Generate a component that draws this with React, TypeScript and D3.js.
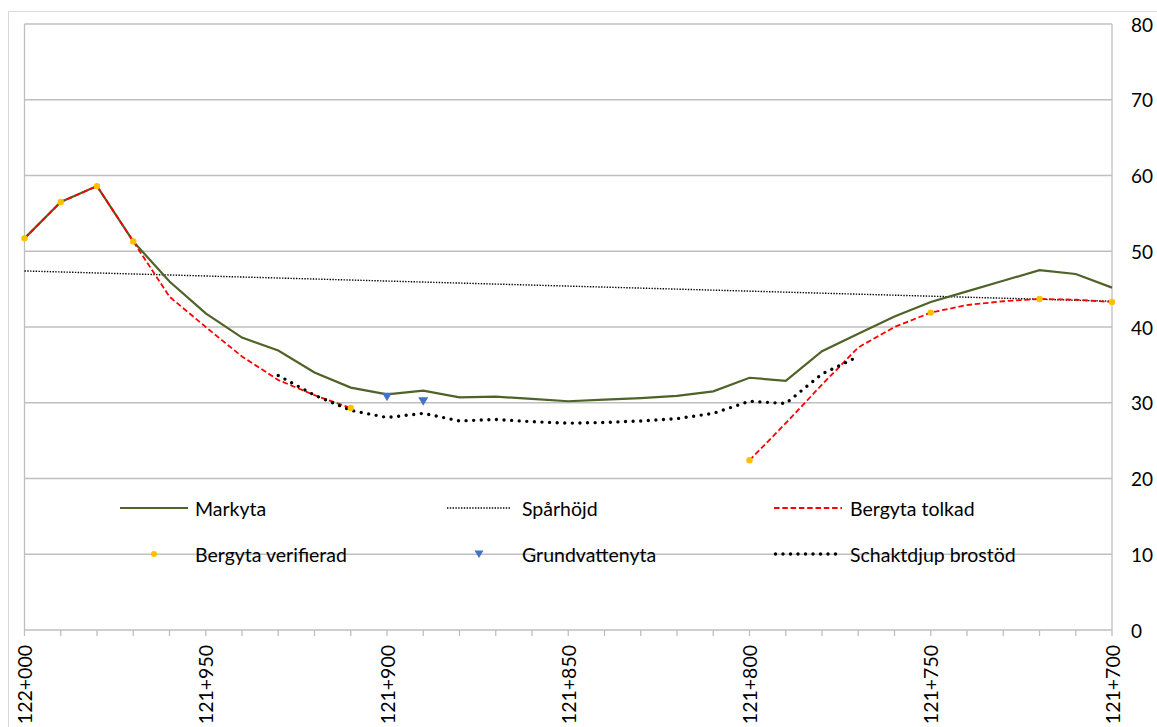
import React from "react";
import * as d3 from "d3";

// ---- data ----
const chainage = [
  122000, 121990, 121980, 121970, 121960, 121950, 121940, 121930, 121920, 121910,
  121900, 121890, 121880, 121870, 121860, 121850, 121840, 121830, 121820, 121810,
  121800, 121790, 121780, 121770, 121760, 121750, 121740, 121730, 121720, 121710, 121700,
];
const markyta = [
  51.7, 56.5, 58.6, 51.3, 46.0, 41.8, 38.6, 36.9, 34.0, 32.0,
  31.1, 31.6, 30.7, 30.8, 30.5, 30.2, 30.4, 30.6, 30.9, 31.5,
  33.3, 32.9, 36.8, 39.1, 41.4, 43.3, 44.7, 46.1, 47.5, 47.0, 45.2,
];
const bergytaTolkad: (number | null)[] = [
  51.7, 56.5, 58.6, 51.3, 44.0, 40.0, 36.1, 33.0, 31.0, 29.3,
  null, null, null, null, null, null, null, null, null, null,
  22.4, 27.3, 32.4, 37.3, 40.0, 41.9, 42.9, 43.4, 43.7, 43.6, 43.3,
];
const sparChainage = [122000, 121700];
const sparhojd = [47.4, 43.4];
const verifChainage = [122000, 121990, 121980, 121970, 121910, 121800, 121750, 121720, 121700];
const bergytaVerifierad = [51.7, 56.5, 58.6, 51.3, 29.3, 22.4, 41.9, 43.7, 43.3];
const gvChainage = [121900, 121890];
const grundvattenyta = [30.8, 30.2];
const schaktChainage = [
  121930, 121920, 121910, 121900, 121890, 121880, 121870, 121860, 121850,
  121840, 121830, 121820, 121810, 121800, 121790, 121780, 121770,
];
const schaktdjup = [
  33.6, 31.0, 29.0, 28.05, 28.6, 27.6, 27.8, 27.5, 27.3,
  27.4, 27.6, 27.9, 28.6, 30.2, 29.9, 33.8, 36.1,
];
const yTicks = [0, 10, 20, 30, 40, 50, 60, 70, 80];
const xLabelTicks = [122000, 121950, 121900, 121850, 121800, 121750, 121700];
const xMinorTicks = d3.range(122000, 121699, -10);

const seriesNames = [
  "Markyta",
  "Spårhöjd",
  "Bergyta tolkad",
  "Bergyta verifierad",
  "Grundvattenyta",
  "Schaktdjup brostöd",
];

const FONT = "Lato, 'Open Sans', sans-serif";
const GREEN = "#4f6228";
const YELLOW = "#ffc000";
const BLUE = "#4472c4";

const fmtChain = (c: number) =>
  `${Math.floor(c / 1000)}+${String(Math.round(c % 1000)).padStart(3, "0")}`;

export default function App() {
  const x = d3.scaleLinear().domain([122000, 121700]).range([24.5, 1112]);
  const y = d3.scaleLinear().domain([0, 80]).range([630, 24]);

  const lineXY = d3
    .line<[number, number | null]>()
    .defined((d) => d[1] != null)
    .x((d) => x(d[0]))
    .y((d) => y(d[1] as number));

  const markPath = lineXY(chainage.map((c, i) => [c, markyta[i]]));
  const tolkPath = lineXY(chainage.map((c, i) => [c, bergytaTolkad[i]]));
  const sparPath = lineXY(sparChainage.map((c, i) => [c, sparhojd[i]]));
  const schaktPath = lineXY(schaktChainage.map((c, i) => [c, schaktdjup[i]]));

  const tri = (cx: number, cy: number, s: number) =>
    `M${cx - s},${cy - s * 0.8}L${cx + s},${cy - s * 0.8}L${cx},${cy + s * 0.9}Z`;

  // legend layout
  const legCols = [
    { ls: 120, le: 188, tx: 195 },
    { ls: 447, le: 511, tx: 522 },
    { ls: 774, le: 842, tx: 850 },
  ];
  const legRows = [508, 554];

  const legendSymbol = (i: number, l: { ls: number; le: number }, cy: number) => {
    const mid = (l.ls + l.le) / 2;
    switch (i) {
      case 0:
        return <line x1={l.ls} x2={l.le} y1={cy} y2={cy} stroke={GREEN} strokeWidth={2.2} />;
      case 1:
        return (
          <line x1={l.ls} x2={l.le} y1={cy} y2={cy} stroke="#000" strokeWidth={1.4} strokeDasharray="1.4 1.4" />
        );
      case 2:
        return (
          <line x1={l.ls} x2={l.le} y1={cy} y2={cy} stroke="#ff0000" strokeWidth={1.8} strokeDasharray="5.5 2.8" />
        );
      case 3:
        return <circle cx={mid} cy={cy} r={3} fill={YELLOW} />;
      case 4:
        return <path d={tri(mid, cy, 4.5)} fill={BLUE} />;
      default:
        return (
          <line
            x1={l.ls + 1.5}
            x2={l.le}
            y1={cy}
            y2={cy}
            stroke="#000"
            strokeWidth={3.4}
            strokeLinecap="round"
            strokeDasharray="0 7.5"
          />
        );
    }
  };

  return (
    <svg
      width={1157}
      height={727}
      style={{ position: "absolute", left: 0, top: 0, background: "#fff" }}
      fontFamily={FONT}
    >
      <rect x={0} y={0} width={1157} height={727} fill="#fff" />
      <rect x={8.5} y={11.5} width={1200} height={800} fill="#fff" stroke="#d9d9d9" strokeWidth={1} />

      {/* gridlines */}
      {yTicks.map((t) => (
        <line key={t} x1={24.5} x2={1112} y1={y(t)} y2={y(t)} stroke="#bfbfbf" strokeWidth={1.3} />
      ))}
      {/* vertical frame lines */}
      <line x1={24.5} x2={24.5} y1={y(80)} y2={y(0)} stroke="#bfbfbf" strokeWidth={1.3} />
      <line x1={1112} x2={1112} y1={y(80)} y2={y(0)} stroke="#bfbfbf" strokeWidth={1.3} />

      {/* x ticks */}
      {xMinorTicks.map((c) => (
        <line key={c} x1={x(c)} x2={x(c)} y1={630} y2={636} stroke="#bfbfbf" strokeWidth={1.3} />
      ))}
      {xLabelTicks.map((c) => (
        <text
          key={c}
          transform={`translate(${x(c)},645) rotate(-90)`}
          textAnchor="end"
          dominantBaseline="central"
          fontSize={19.5}
          fill="#000"
        >
          {fmtChain(c)}
        </text>
      ))}
      {/* y labels (right) */}
      {yTicks.map((t) => (
        <text key={t} x={1131} y={y(t)} dominantBaseline="central" fontSize={19} fill="#000">
          {t}
        </text>
      ))}

      {/* legend */}
      {seriesNames.map((name, i) => {
        const col = legCols[i % 3];
        const cy = legRows[Math.floor(i / 3)];
        return (
          <g key={name}>
            {legendSymbol(i, col, cy)}
            <text x={col.tx} y={cy} dominantBaseline="central" fontSize={19.5} fill="#000">
              {name}
            </text>
          </g>
        );
      })}

      {/* series */}
      <path d={sparPath || ""} fill="none" stroke="#000" strokeWidth={1.4} strokeDasharray="1.4 1.4" />
      <path d={markPath || ""} fill="none" stroke={GREEN} strokeWidth={2.2} />
      <path d={tolkPath || ""} fill="none" stroke="#ff0000" strokeWidth={1.8} strokeDasharray="5.5 2.8" />
      <path
        d={schaktPath || ""}
        fill="none"
        stroke="#000"
        strokeWidth={3.4}
        strokeLinecap="round"
        strokeDasharray="0 7.6"
      />
      {verifChainage.map((c, i) => (
        <circle key={c} cx={x(c)} cy={y(bergytaVerifierad[i])} r={3.2} fill={YELLOW} />
      ))}
      {gvChainage.map((c, i) => (
        <path key={c} d={tri(x(c), y(grundvattenyta[i]), 5)} fill={BLUE} />
      ))}
    </svg>
  );
}
